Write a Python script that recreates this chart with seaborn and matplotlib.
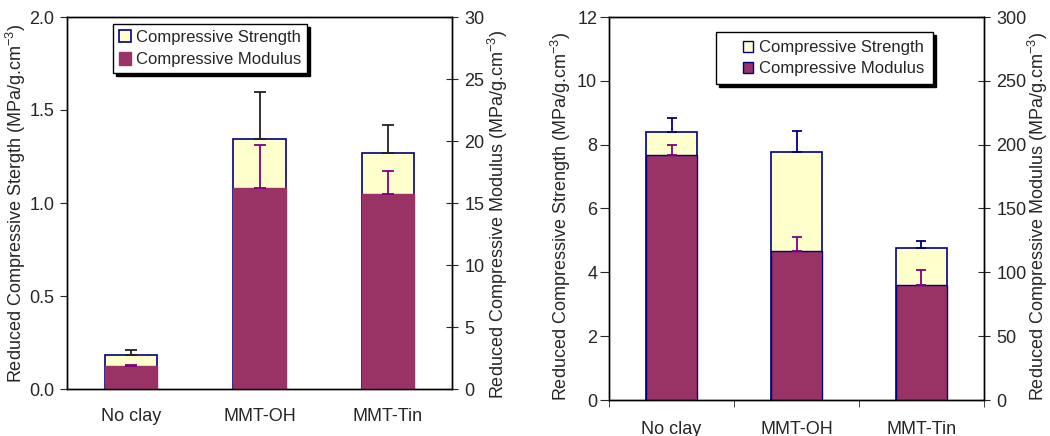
import numpy as np
import pandas as pd
import matplotlib
matplotlib.use("Agg")
import matplotlib.pyplot as plt
from matplotlib.patches import Patch, Rectangle
from matplotlib.legend_handler import HandlerPatch
import seaborn as sns

# данные
categories = ["No clay", "MMT-OH", "MMT-Tin"]

left_strength = [0.185, 1.345, 1.27]
left_strength_err = [0.023, 0.25, 0.15]
left_modulus = [1.83, 16.2, 15.75]
left_modulus_err = [0.08, 3.45, 1.85]

right_strength = [8.40, 7.78, 4.75]
right_strength_err = [0.44, 0.66, 0.23]
right_modulus = [191.7, 116.9, 89.7]
right_modulus_err = [8.4, 10.7, 11.8]

YELLOW = "#FFFFCC"
PURPLE = "#993366"
NAVY = "#000080"
ERR_PURPLE = "#800080"

sns.set_style("ticks")
plt.rcParams["font.family"] = ["Liberation Sans", "DejaVu Sans"]
plt.rcParams["mathtext.fontset"] = "custom"
plt.rcParams["mathtext.rm"] = "Liberation Sans"
plt.rcParams["mathtext.it"] = "Liberation Sans"
plt.rcParams["axes.edgecolor"] = "black"
plt.rcParams["axes.linewidth"] = 1.0

W, H = 1050, 436
fig = plt.figure(figsize=(W / 100, H / 100), dpi=100)


def px_axes(x0, y0, x1, y1):
    return fig.add_axes([x0 / W, 1 - y1 / H, (x1 - x0) / W, (y1 - y0) / H])


def draw_panel(ax, strength, s_err, modulus, m_err, ylim_s, ylim_m, s_ticks, m_ticks,
               s_fmt, ylabel_left, mod_edge, s_err_color, capsize):
    df = pd.DataFrame({"cat": categories, "strength": strength, "modulus": modulus})
    x = np.arange(len(categories))

    sns.barplot(data=df, x="cat", y="strength", ax=ax, color=YELLOW, saturation=1,
                width=0.41, edgecolor=NAVY, linewidth=1.2, errorbar=None)
    ax.errorbar(x, strength, yerr=[np.zeros(len(x)), s_err], fmt="none",
                ecolor=s_err_color, elinewidth=1.3, capsize=capsize, capthick=1.3)
    ax.set_ylim(*ylim_s)
    ax.set_yticks(s_ticks)
    ax.set_yticklabels([s_fmt.format(t) for t in s_ticks])

    ax2 = ax.twinx()
    sns.barplot(data=df, x="cat", y="modulus", ax=ax2, color=PURPLE, saturation=1,
                width=0.41, edgecolor=mod_edge, linewidth=1.0, errorbar=None)
    ax2.errorbar(x, modulus, yerr=[np.zeros(len(x)), m_err], fmt="none",
                 ecolor=ERR_PURPLE, elinewidth=1.3, capsize=capsize, capthick=1.3)
    ax2.set_ylim(*ylim_m)
    ax2.set_yticks(m_ticks)
    ax.set_xlim(-0.5, 2.5)

    ax.set_xlabel("")
    ax2.set_xlabel("")
    ax.set_ylabel(ylabel_left, fontsize=13)
    ax2.set_ylabel("Reduced Compressive Modulus (MPa/g.cm$^{-3}$)", fontsize=13)
    for s in ax.spines.values():
        s.set_visible(True)
    for s in ax2.spines.values():
        s.set_visible(True)
    ax.tick_params(axis="y", direction="out", labelsize=13)
    ax2.tick_params(axis="y", direction="inout", length=8, pad=5, labelsize=13)
    ax.tick_params(axis="x", labelsize=13)
    return ax2


# квадратик маркера прижат к правому краю длинного места под маркер
def right_square(legend, orig_handle, xdescent, ydescent, width, height, fontsize):
    side = height
    return Rectangle((width - side - xdescent, -ydescent), side, side)


# левая панель
axL = px_axes(67, 17, 452, 389)
axL2 = draw_panel(axL, left_strength, left_strength_err, left_modulus, left_modulus_err,
                  (0, 2.0), (0, 30), [0, 0.5, 1.0, 1.5, 2.0], [0, 5, 10, 15, 20, 25, 30],
                  "{:.1f}", "Reduced Compressive Stergth (MPa/g.cm$^{-3}$)", PURPLE, "#222222", 4)
axL.tick_params(axis="y", length=5, pad=4)
axL.tick_params(axis="x", length=0, pad=14)
axL.yaxis.set_label_coords(-0.102, 0.5)
axL2.yaxis.set_label_coords(1.087, 0.47)

handlesL = [Patch(facecolor=YELLOW, edgecolor=NAVY, linewidth=1.2, label="Compressive Strength"),
            Patch(facecolor=PURPLE, edgecolor=PURPLE, label="Compressive Modulus")]
legL = axL2.legend(handles=handlesL, loc="upper left", bbox_to_anchor=(0.119, 0.981),
                   borderaxespad=0, fontsize=12, frameon=True, fancybox=False,
                   edgecolor="black", framealpha=1, handlelength=0.75, handleheight=0.75,
                   handletextpad=0.3, borderpad=0.35, labelspacing=0.45,
                   shadow={"facecolor": "black", "edgecolor": "black", "alpha": 1})
legL.get_frame().set_linewidth(1.0)

# правая панель
axR = px_axes(609, 17, 984, 400)
axR2 = draw_panel(axR, right_strength, right_strength_err, right_modulus, right_modulus_err,
                  (0, 12), (0, 300), [0, 2, 4, 6, 8, 10, 12], [0, 50, 100, 150, 200, 250, 300],
                  "{:.0f}", "Reduced Compressive Strength (MPa/g.cm$^{-3}$)", NAVY, NAVY, 3.5)
axR.tick_params(axis="y", length=6.5, pad=2)
axR.set_xticks([-0.5, 0.5, 1.5, 2.5], minor=True)
axR.tick_params(axis="x", which="major", length=0, pad=15)
axR.tick_params(axis="x", which="minor", direction="out", length=5)
axR.yaxis.set_label_coords(-0.097, 0.48)
axR2.yaxis.set_label_coords(1.113, 0.48)

handlesR = [Patch(facecolor=YELLOW, edgecolor=NAVY, linewidth=1.0, label="Compressive Strength"),
            Patch(facecolor=PURPLE, edgecolor=NAVY, linewidth=1.0, label="Compressive Modulus")]
legR = axR2.legend(handles=handlesR, loc="upper left", bbox_to_anchor=(0.285, 0.961),
                   borderaxespad=0, fontsize=12, frameon=True, fancybox=False,
                   edgecolor="black", framealpha=1, handlelength=1.75, handleheight=0.6,
                   handletextpad=0.35, borderpad=0.5, labelspacing=0.35,
                   handler_map={Patch: HandlerPatch(patch_func=right_square)},
                   shadow={"facecolor": "black", "edgecolor": "black", "alpha": 1})
legR.get_frame().set_linewidth(1.0)

fig.savefig("out.png", dpi=100)
